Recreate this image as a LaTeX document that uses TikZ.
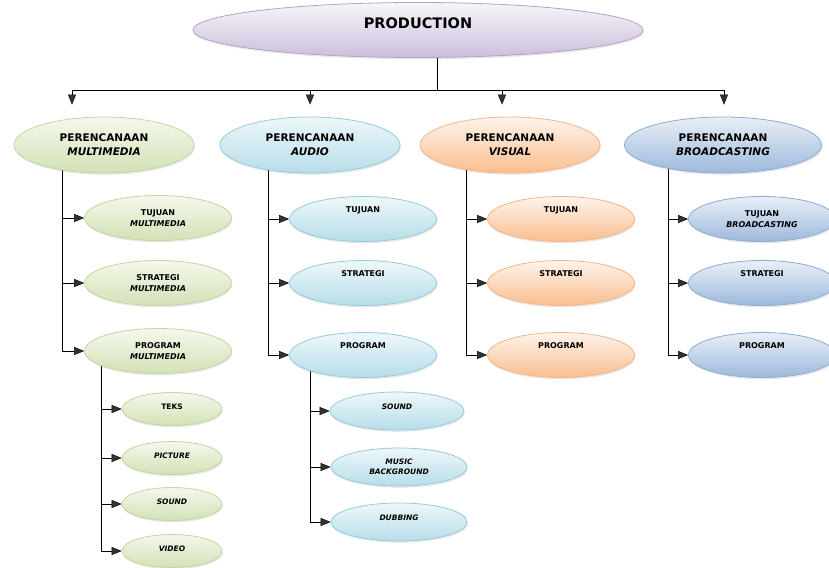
\documentclass[tikz,border=0pt]{standalone}
\usepackage{fontspec}
\setmainfont{DejaVu Sans}
\usepackage{xcolor}
\usetikzlibrary{shapes.geometric,arrows.meta,shadows,backgrounds}

\definecolor{prtop}{HTML}{F7F5FA}\definecolor{prbot}{HTML}{CBBFDA}\definecolor{prline}{HTML}{B3A2C7}
\definecolor{mmtop}{HTML}{F5F8EC}\definecolor{mmbot}{HTML}{D3E1B6}\definecolor{mmline}{HTML}{C3D69B}
\definecolor{autop}{HTML}{EEF7FA}\definecolor{aubot}{HTML}{B7DDE8}\definecolor{auline}{HTML}{93CDDD}
\definecolor{vitop}{HTML}{FEF4EC}\definecolor{vibot}{HTML}{F9BE8E}\definecolor{viline}{HTML}{F6B58A}
\definecolor{bctop}{HTML}{E9EFF7}\definecolor{bcbot}{HTML}{9DB9DB}\definecolor{bcline}{HTML}{8EABD3}
\definecolor{wire}{HTML}{333333}

\tikzset{
	bubble/.style={ellipse,line width=0.8pt,align=center,inner sep=1pt,
		drop shadow={opacity=0.18,shadow xshift=0.8pt,shadow yshift=-1.8pt}},
	prodnode/.style={bubble,top color=prtop,bottom color=prbot,draw=prline,
		minimum width=450pt,minimum height=55pt,font=\fontsize{14.5}{17}\selectfont\bfseries},
	head/.style={bubble,minimum width=180pt,minimum height=56pt,font=\fontsize{10.5}{14}\selectfont\bfseries},
	sub/.style={bubble,minimum width=147pt,minimum height=45pt,font=\fontsize{8}{11}\selectfont\bfseries},
	leaf/.style={bubble,minimum width=100pt,minimum height=33pt,font=\fontsize{7.5}{10}\selectfont\bfseries},
	lift/.style={text depth=#1},
	mm/.style={top color=mmtop,bottom color=mmbot,draw=mmline},
	au/.style={top color=autop,bottom color=aubot,draw=auline},
	vi/.style={top color=vitop,bottom color=vibot,draw=viline},
	bc/.style={top color=bctop,bottom color=bcbot,draw=bcline}
}

\begin{document}
\begin{tikzpicture}[x=1pt,y=-1pt,>={Triangle[length=10pt,width=8pt]}]
	\useasboundingbox (0,0) rectangle (829,567);

	\node[prodnode,lift=14pt] (prod) at (418,30) {PRODUCTION};

	% level one
	\node[head,mm] (mm) at (104,145) {PERENCANAAN\\\textit{MULTIMEDIA}};
	\node[head,au] (au) at (310,145) {PERENCANAAN\\\textit{AUDIO}};
	\node[head,vi] (vi) at (510,145) {PERENCANAAN\\\textit{VISUAL}};
	\node[head,bc,minimum width=197pt] (bc) at (723,145) {PERENCANAAN\\\textit{BROADCASTING}};

	% level two
	\node[sub,mm] (mmtuj) at (158,218) {TUJUAN\\\textit{MULTIMEDIA}};
	\node[sub,mm] (mmstr) at (158,283) {STRATEGI\\\textit{MULTIMEDIA}};
	\node[sub,mm] (mmprog) at (158,351) {PROGRAM\\\textit{MULTIMEDIA}};

	\node[sub,au,lift=18pt] (autuj) at (363,219) {TUJUAN};
	\node[sub,au,lift=18pt] (austr) at (363,283) {STRATEGI};
	\node[sub,au,lift=18pt] (auprog) at (363,355) {PROGRAM};

	\node[sub,vi,lift=18pt] (vituj) at (561,219) {TUJUAN};
	\node[sub,vi,lift=18pt] (vistr) at (561,283) {STRATEGI};
	\node[sub,vi,lift=18pt] (viprog) at (561,355) {PROGRAM};

	\node[sub,bc] (bctuj) at (762,219) {TUJUAN\\\textit{BROADCASTING}};
	\node[sub,bc,lift=18pt] (bcstr) at (762,283) {STRATEGI};
	\node[sub,bc,lift=18pt] (bcprog) at (762,355) {PROGRAM};

	% level three
	\node[leaf,mm,lift=4pt] (mmteks) at (172,409) {TEKS};
	\node[leaf,mm,lift=4pt] (mmpic) at (172,458) {\textit{PICTURE}};
	\node[leaf,mm,lift=4pt] (mmsnd) at (172,504) {\textit{SOUND}};
	\node[leaf,mm,lift=4pt] (mmvid) at (172,551) {\textit{VIDEO}};

	\node[leaf,au,minimum width=134pt,minimum height=38pt,lift=8pt] (ausnd) at (397,411) {\textit{SOUND}};
	\node[leaf,au,minimum width=136pt,minimum height=38pt] (aumus) at (399,467) {\textit{MUSIC}\\\textit{BACKGROUND}};
	\node[leaf,au,minimum width=136pt,minimum height=38pt,lift=8pt] (audub) at (399,522) {\textit{DUBBING}};

	\begin{scope}[on background layer,draw=wire,line width=1.3pt]
		\coordinate (hub) at (437,90);
		\draw ([xshift=19pt]prod.center) -- (hub);
		\draw ([xshift=-32pt]mm.north |- hub) -- ([xshift=2pt]bc.north |- hub);
		\foreach \n/\dx in {mm/-32,au/0,vi/-8,bc/1}
			\draw[->] ([xshift=\dx pt]\n.north |- hub) -- ([xshift=\dx pt,yshift=12pt]\n.north);

		\foreach \n/\dx in {mm/-42,au/-42,vi/-44,bc/-55}
			\foreach \k in {tuj,str,prog}
				\draw[->] ([xshift=\dx pt]\n.center) |- (\n\k.west);

		\foreach \k in {teks,pic,snd,vid}
			\draw[->] ([xshift=-57pt]mmprog.center) |- (mm\k.west);
		\foreach \k in {snd,mus,dub}
			\draw[->] ([xshift=-53pt]auprog.center) |- (au\k.west);
	\end{scope}
\end{tikzpicture}
\end{document}
